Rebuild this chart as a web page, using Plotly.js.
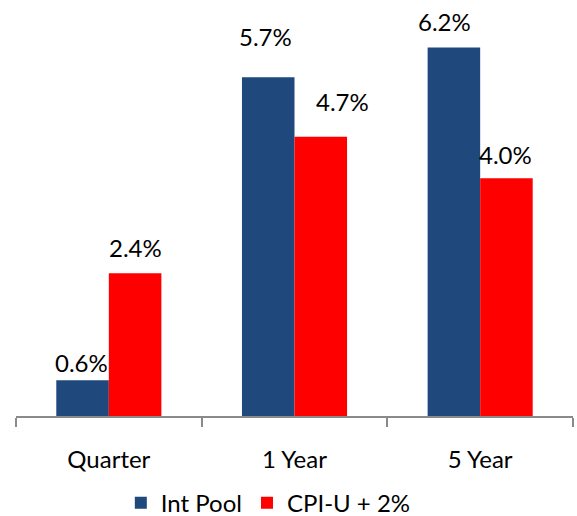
<!DOCTYPE html>
<html>
<head>
<meta charset="utf-8">
<script src="https://cdn.plot.ly/plotly-3.0.1.min.js"></script>
<style>html,body{margin:0;padding:0;background:#fff}#chart{width:577px;height:516px}</style>
</head>
<body>
<div id="chart"></div>
<script>
const categories = ["Quarter", "1 Year", "5 Year"];
const seriesNames = ["Int Pool", "CPI-U + 2%"];
const intPool = [0.6, 5.7, 6.2];
const cpiU = [2.4, 4.7, 4.0];
const intPoolLabels = ["0.6%", "5.7%", "6.2%"];
const cpiULabels = ["2.4%", "4.7%", "4.0%"];

const colors = ["#1f497d", "#ff0000"];
const fontFamily = "Lato, 'Open Sans', sans-serif";

// label nudges (pixels) to mimic the reference placement
const labelNudgeX = [[-1, -2.5, -9], [0, 22, -1]];
const labelNudgeY = [[1, 24, 10], [9, 19, 7]];

const plotW = 577 - 16 - 4;
const bargap = 0.434;
const barPx = plotW / categories.length * (1 - bargap) / 2;

const series = [intPool, cpiU];
const labels = [intPoolLabels, cpiULabels];

const traces = series.map((vals, i) => ({
  type: "bar",
  name: seriesNames[i],
  x: categories,
  y: vals,
  marker: {color: colors[i], line: {width: 0}},
  hoverinfo: "skip"
}));

const annotations = [];
series.forEach((vals, i) => {
  vals.forEach((v, j) => {
    annotations.push({
      x: categories[j], y: v, xref: "x", yref: "y",
      text: labels[i][j], showarrow: false,
      xanchor: "center", yanchor: "bottom",
      xshift: (i === 0 ? -barPx / 2 : barPx / 2) + labelNudgeX[i][j],
      yshift: labelNudgeY[i][j],
      font: {family: fontFamily, size: 24, color: "#000"}
    });
  });
});

const layout = {
  width: 577, height: 516,
  margin: {l: 16, r: 4, t: 0, b: 100, autoexpand: false},
  paper_bgcolor: "#fff", plot_bgcolor: "#fff",
  barmode: "group", bargap: bargap, bargroupgap: 0,
  font: {family: fontFamily, size: 24, color: "#000"},
  xaxis: {
    type: "category", automargin: false,
    showline: true, linecolor: "#8a8a8a", linewidth: 2,
    ticks: "outside", tickson: "boundaries", ticklen: 9, tickwidth: 2, tickcolor: "#8a8a8a",
    ticklabelstandoff: 21,
    tickfont: {family: fontFamily, size: 24, color: "#000"},
    showgrid: false, zeroline: false, fixedrange: true
  },
  yaxis: {
    range: [0, 7], visible: false, showgrid: false, zeroline: false, fixedrange: true
  },
  showlegend: true,
  legend: {
    orientation: "h", x: 0.453, xanchor: "center",
    yref: "container", y: 0.025, yanchor: "middle",
    font: {family: fontFamily, size: 24, color: "#000"},
    bgcolor: "rgba(0,0,0,0)"
  },
  annotations: annotations
};

Plotly.newPlot("chart", traces, layout, {displayModeBar: false, staticPlot: true});
</script>
</body>
</html>
